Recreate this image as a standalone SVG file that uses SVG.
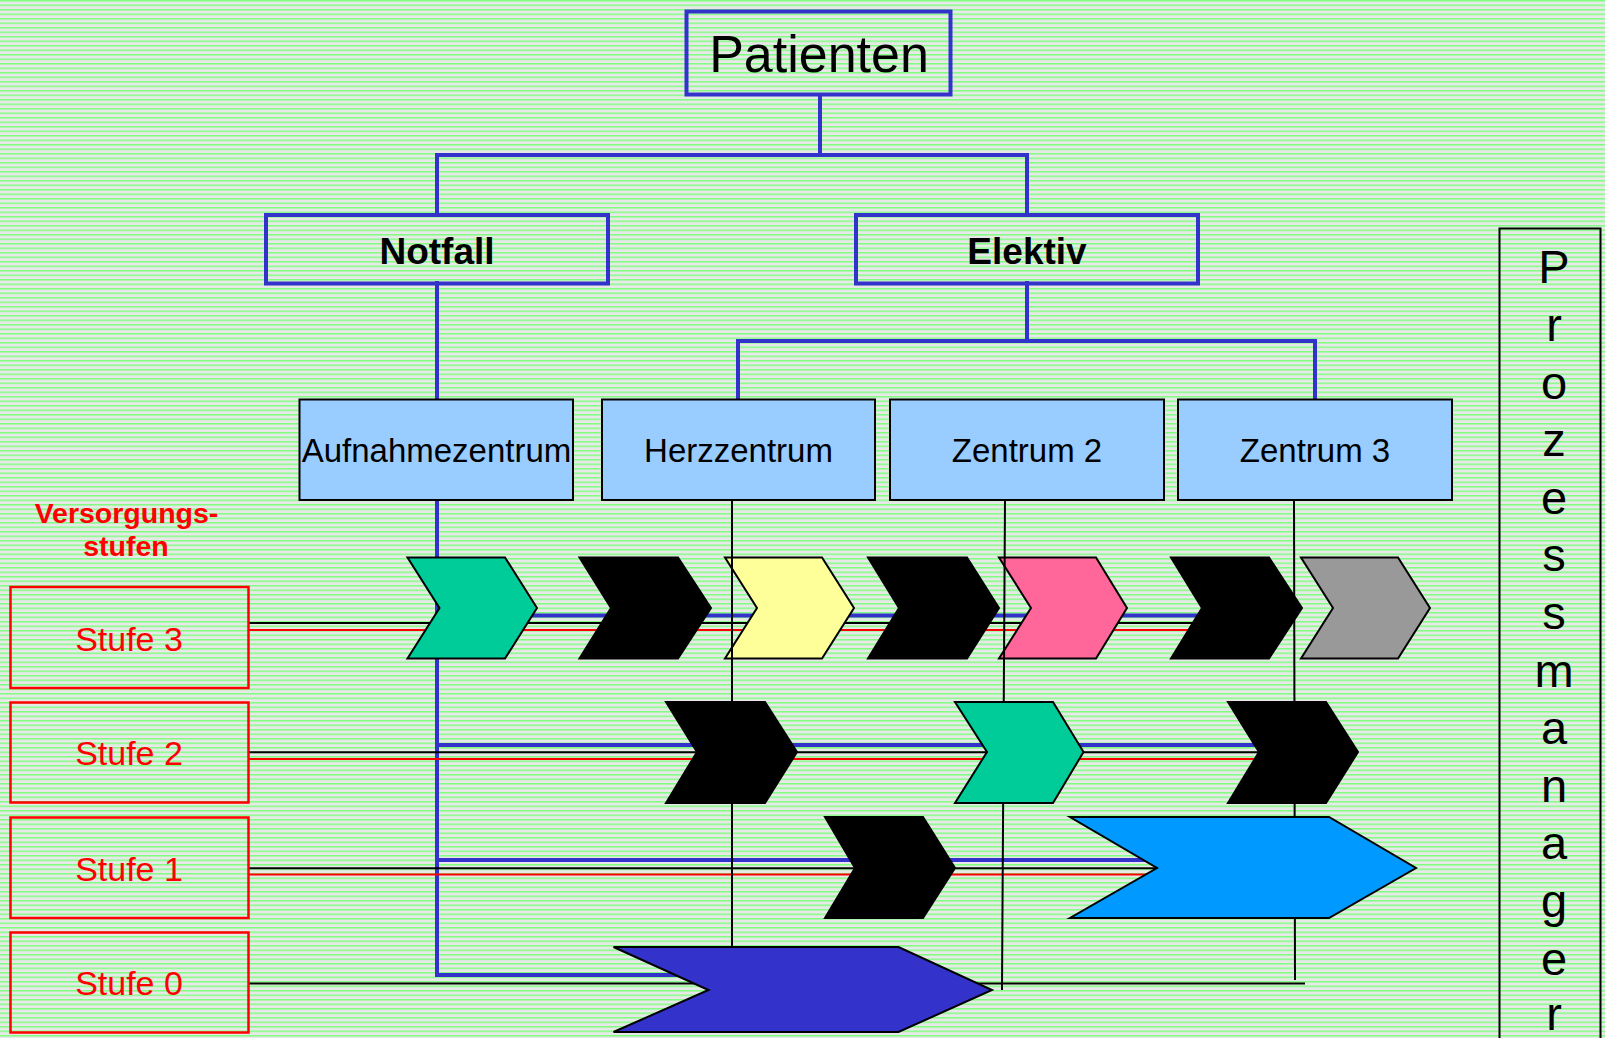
<svg xmlns="http://www.w3.org/2000/svg" width="1605" height="1038" viewBox="0 0 1605 1038">
  <defs>
    <pattern id="bg" width="10" height="4.5" patternUnits="userSpaceOnUse">
      <rect width="10" height="4.5" fill="#e8e8e8"/>
      <rect y="0" width="10" height="1.5" fill="#80ff80"/>
    </pattern>
    <style>
      .blue { stroke: #3333cc; stroke-width: 4; fill: none; stroke-linecap: square; }
      .thin { stroke: #000; stroke-width: 2; fill: none; }
      .red { stroke: #ff0000; stroke-width: 2; fill: none; }
      .chev { stroke: #000; stroke-width: 2; stroke-linejoin: miter; }
      .bbox { fill: none; stroke: #3333cc; stroke-width: 4; }
      .cbox { fill: #99ccff; stroke: #000; stroke-width: 2; }
      .sbox { fill: none; stroke: #ff0000; stroke-width: 2.5; }
      .t { font-family: "Liberation Sans", Arial, sans-serif; text-anchor: middle; fill: #000; }
      .st { font-family: "Liberation Sans", Arial, sans-serif; text-anchor: middle; fill: #ff0000; font-size: 34px; }
    </style>
  </defs>
  <rect width="1605" height="1038" fill="url(#bg)"/>

  <g id="connectors">
    <line class="blue" x1="820" y1="95" x2="820" y2="155"/>
    <line class="blue" x1="437" y1="155" x2="1027" y2="155"/>
    <line class="blue" x1="437" y1="155" x2="437" y2="215"/>
    <line class="blue" x1="1027" y1="155" x2="1027" y2="215"/>
    <line class="blue" x1="1027" y1="283" x2="1027" y2="341"/>
    <line class="blue" x1="738" y1="341" x2="1315" y2="341"/>
    <line class="blue" x1="738" y1="341" x2="738" y2="399"/>
    <line class="blue" x1="1315" y1="341" x2="1315" y2="399"/>
    <polyline class="blue" points="437,283 437,975 700,975"/>
    <line class="blue" x1="437" y1="615.5" x2="1230" y2="615.5"/>
    <line class="blue" x1="437" y1="745" x2="1260" y2="745"/>
    <line class="blue" x1="437" y1="860" x2="1160" y2="860"/>
    <line class="thin" x1="248" y1="623" x2="1285" y2="623"/>
    <line class="red" x1="248" y1="630" x2="1200" y2="630"/>
    <line class="thin" x1="248" y1="752.3" x2="1260" y2="752.3"/>
    <line class="red" x1="248" y1="759" x2="1260" y2="759"/>
    <line class="thin" x1="248" y1="868.3" x2="1160" y2="868.3"/>
    <line class="red" x1="248" y1="874.5" x2="1160" y2="874.5"/>
    <line class="thin" x1="248" y1="983.5" x2="1305" y2="983.5"/>
  </g>

  <g id="stufe3-chevrons">
    <polygon class="chev" fill="#00cc99" points="407.5,557.5 505,557.5 537,608 505,658.5 407.5,658.5 439.5,608"/>
    <polygon class="chev" fill="#000000" points="579.5,557.5 678,557.5 711,608 678,658.5 579.5,658.5 611,608"/>
    <polygon class="chev" fill="#ffff99" points="725,557.5 822,557.5 854,608 822,658.5 725,658.5 757,608"/>
    <polygon class="chev" fill="#000000" points="868,557.5 967,557.5 999,608 967,658.5 868,658.5 899,608"/>
    <polygon class="chev" fill="#ff6699" points="999,557.5 1096,557.5 1127,608 1096,658.5 999,658.5 1031,608"/>
    <polygon class="chev" fill="#000000" points="1171,557.5 1269,557.5 1302,608 1269,658.5 1171,658.5 1202,608"/>
    <polygon class="chev" fill="#999999" points="1301,557.5 1398,557.5 1430,608 1398,658.5 1301,658.5 1333,608"/>
  </g>

  <g id="center-lines">
    <line class="thin" x1="732" y1="500" x2="732" y2="947"/>
    <line class="thin" x1="1005" y1="500" x2="1002" y2="990"/>
    <line class="thin" x1="1294" y1="500" x2="1295" y2="980"/>
  </g>

  <g id="stufe2-chevrons">
    <polygon class="chev" fill="#000000" points="666,702 765,702 797,752 765,803 666,803 697,752"/>
    <polygon class="chev" fill="#00cc99" points="955,702 1053,702 1083.5,752 1053,803 955,803 987,752"/>
    <polygon class="chev" fill="#000000" points="1228,702 1326,702 1358,752 1326,803 1228,803 1259,752"/>
  </g>
  <g id="stufe1-chevrons">
    <polygon class="chev" fill="#000000" points="825,817 923,817 955,868 923,918 825,918 855,868"/>
    <polygon class="chev" fill="#0099ff" points="1070,817 1329,817 1416,868 1329,918 1070,918 1157,868"/>
  </g>
  <g id="stufe0-chevron">
    <polygon class="chev" fill="#3333cc" points="613.5,947 898.5,947 992,990 898.5,1032 613.5,1032 708.5,990"/>
  </g>

  <g id="patienten">
    <rect class="bbox" x="686.5" y="11.5" width="264" height="83"/>
    <text class="t" x="819" y="72" font-size="52">Patienten</text>
  </g>
  <g id="notfall">
    <rect class="bbox" x="266" y="215" width="342" height="68.5"/>
    <text class="t" x="437" y="264" font-size="37" font-weight="bold">Notfall</text>
  </g>
  <g id="elektiv">
    <rect class="bbox" x="856" y="215" width="342" height="68.5"/>
    <text class="t" x="1027" y="264" font-size="37" font-weight="bold">Elektiv</text>
  </g>

  <g id="aufnahmezentrum">
    <rect class="cbox" x="299.5" y="399.5" width="273.5" height="100.5"/>
    <text class="t" x="436.5" y="462" font-size="33">Aufnahmezentrum</text>
  </g>
  <g id="herzzentrum">
    <rect class="cbox" x="602" y="399.5" width="273" height="100.5"/>
    <text class="t" x="738.5" y="462" font-size="33">Herzzentrum</text>
  </g>
  <g id="zentrum2">
    <rect class="cbox" x="890" y="399.5" width="274" height="100.5"/>
    <text class="t" x="1027" y="462" font-size="33">Zentrum 2</text>
  </g>
  <g id="zentrum3">
    <rect class="cbox" x="1178" y="399.5" width="274" height="100.5"/>
    <text class="t" x="1315" y="462" font-size="33">Zentrum 3</text>
  </g>

  <g id="versorgungsstufen">
    <text x="126.5" y="522.5" font-family="Liberation Sans, Arial, sans-serif" font-size="28.5" font-weight="bold" fill="#ff0000" text-anchor="middle">Versorgungs-</text>
    <text x="126" y="556" font-family="Liberation Sans, Arial, sans-serif" font-size="28.5" font-weight="bold" fill="#ff0000" text-anchor="middle">stufen</text>
  </g>
  <g id="stufe3">
    <rect class="sbox" x="10.5" y="587" width="238" height="101"/>
    <text class="st" x="129" y="650.5">Stufe 3</text>
  </g>
  <g id="stufe2">
    <rect class="sbox" x="10.5" y="702.5" width="238" height="100"/>
    <text class="st" x="129" y="765">Stufe 2</text>
  </g>
  <g id="stufe1">
    <rect class="sbox" x="10.5" y="817.5" width="238" height="100.5"/>
    <text class="st" x="129" y="880.5">Stufe 1</text>
  </g>
  <g id="stufe0">
    <rect class="sbox" x="10.5" y="932.5" width="238" height="100"/>
    <text class="st" x="129" y="995">Stufe 0</text>
  </g>

  <g id="prozessmanager">
    <rect x="1499.5" y="228.5" width="101" height="830" fill="none" stroke="#000" stroke-width="2"/>
    <g class="t" font-size="47">
      <text x="1554" y="283.3">P</text>
      <text x="1554" y="340.9">r</text>
      <text x="1554" y="398.5">o</text>
      <text x="1554" y="456.1">z</text>
      <text x="1554" y="513.7">e</text>
      <text x="1554" y="571.3">s</text>
      <text x="1554" y="628.9">s</text>
      <text x="1554" y="686.5">m</text>
      <text x="1554" y="744.1">a</text>
      <text x="1554" y="801.7">n</text>
      <text x="1554" y="859.3">a</text>
      <text x="1554" y="916.9">g</text>
      <text x="1554" y="974.5">e</text>
      <text x="1554" y="1030">r</text>
    </g>
  </g>
</svg>
